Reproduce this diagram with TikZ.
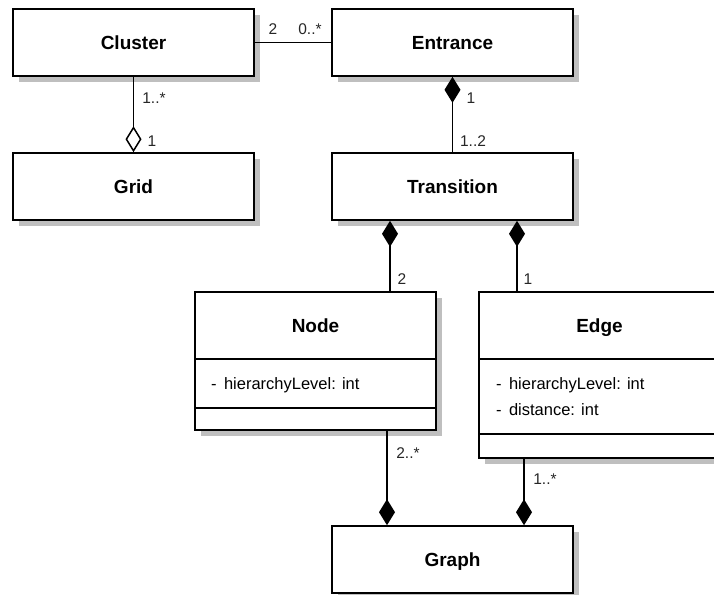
\documentclass[tikz,border=0pt]{standalone}
\usepackage{fontspec}
\setmainfont{Liberation Sans}
\usetikzlibrary{arrows.meta,shadows,calc}

\tikzset{
  umlbox/.style={draw, fill=white, line width=1.6pt, inner sep=0pt,
    minimum width=241pt, minimum height=67pt,
    drop shadow={shadow xshift=6pt, shadow yshift=-6pt, fill=black!25, opacity=1}},
  title/.style={font=\bfseries\fontsize{19}{22}\selectfont, inner sep=0pt, anchor=base},
  attr/.style={font=\fontsize{16.5}{19}\selectfont, anchor=west, inner sep=0pt},
  mult/.style={font=\fontsize{15.5}{18}\selectfont, inner sep=0pt, text=black!85},
  link/.style={line width=1.5pt},
  compo/.style={link, {Diamond[length=26pt,width=16pt]}-},
  aggr/.style={link, -{Diamond[open,length=26pt,width=16pt]}},
  sepline/.style={line width=1.5pt}
}

\begin{document}
\begin{tikzpicture}[x=1pt,y=-1pt]
  \clip (0,0) rectangle (714,594);

  % class boxes
  \node[umlbox] (cluster)  at (133.5,42.5)  {};
  \node[umlbox] (entrance) at (452.5,42.5)  {};
  \node[umlbox] (grid)     at (133.5,186.5) {};
  \node[umlbox] (trans)    at (452.5,186.5) {};
  \node[umlbox, minimum height=138pt] (nodebox) at (315.5,361) {};
  \node[umlbox, minimum height=166pt] (edgebox) at (599.5,375) {};
  \node[umlbox] (graph)    at (452.5,559.5) {};

  % class names (on a common baseline inside each title compartment)
  \node[title] at (133.5,49.5)  {Cluster};
  \node[title] at (452.5,49.5)  {Entrance};
  \node[title] at (133.5,193.5) {Grid};
  \node[title] at (452.5,193.5) {Transition};
  \node[title] at (452.5,566.5) {Graph};
  \node[title] (nodetitle) at (315.5,332.5) {Node};
  \node[title] (edgetitle) at (599.5,332.5) {Edge};

  % compartments of Node
  \draw[sepline] (nodebox.west |- 0,359) -- (nodebox.east |- 0,359);
  \draw[sepline] (nodebox.west |- 0,408) -- (nodebox.east |- 0,408);
  \node[attr] (nodeattr) at (211,385) {-\, hierarchyLevel: int};

  % compartments of Edge
  \draw[sepline] (edgebox.west |- 0,359) -- (edgebox.east |- 0,359);
  \draw[sepline] (edgebox.west |- 0,434) -- (edgebox.east |- 0,434);
  \node[attr] (edgeattra) at (496,385) {-\, hierarchyLevel: int};
  \node[attr] (edgeattrb) at (496,410) {-\, distance: int};

  % associations
  \draw[link] (cluster.east) -- (entrance.west);
  \draw[aggr] (cluster.south) -- (grid.north);
  \draw[compo] (entrance.south) -- (trans.north);
  \draw[compo] ([xshift=74.5pt]nodebox.north |- trans.south) -- ([xshift=74.5pt]nodebox.north);
  \draw[compo] ([xshift=-82.5pt]edgebox.north |- trans.south) -- ([xshift=-82.5pt]edgebox.north);
  \draw[compo] ([xshift=71.5pt]nodebox.south |- graph.north) -- ([xshift=71.5pt]nodebox.south);
  \draw[compo] ([xshift=-75.5pt]edgebox.south |- graph.north) -- ([xshift=-75.5pt]edgebox.south);

  % multiplicities
  \node[mult] at (273,29)  {2};
  \node[mult] at (310,29)  {0..*};
  \node[mult] at (154,98)  {1..*};
  \node[mult] at (152,141) {1};
  \node[mult] at (471,98)  {1};
  \node[mult] at (473,141) {1..2};
  \node[mult] at (402,279) {2};
  \node[mult] at (528,279) {1};
  \node[mult] at (408,453) {2..*};
  \node[mult] at (545,479) {1..*};
\end{tikzpicture}
\end{document}
